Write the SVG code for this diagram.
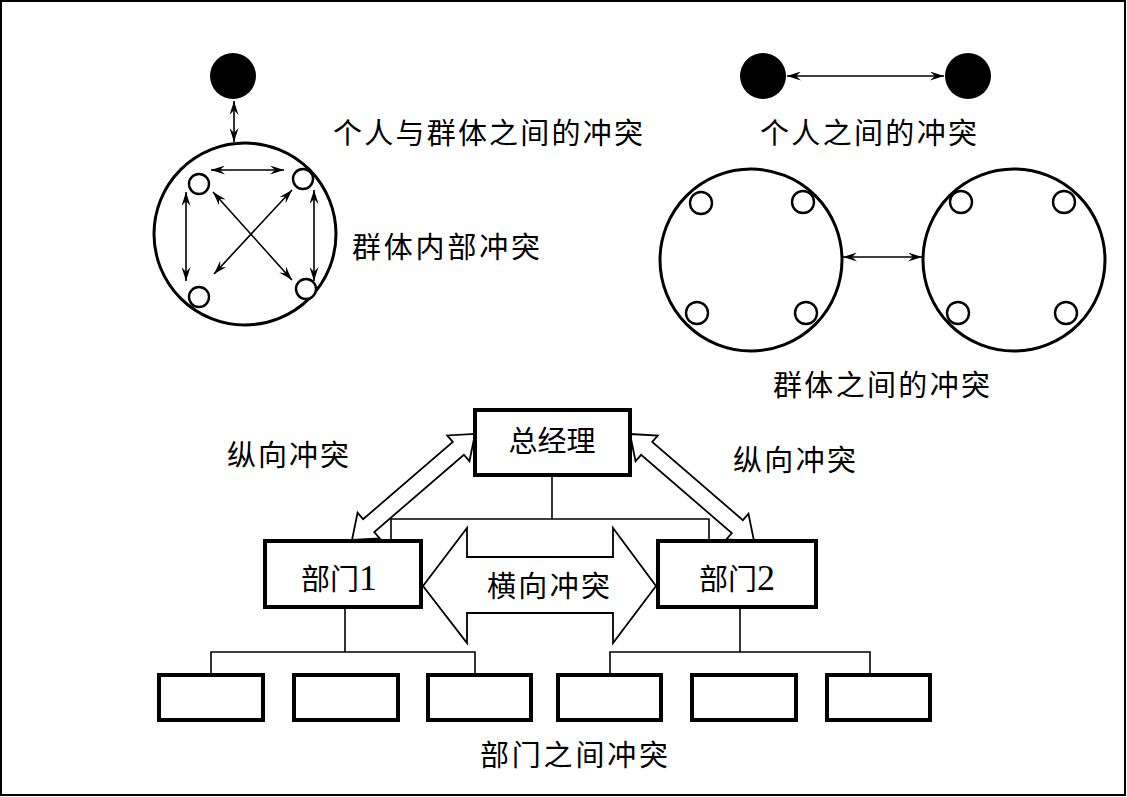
<svg xmlns="http://www.w3.org/2000/svg" width="1127" height="797" viewBox="0 0 1127 797">
<style>
  .t { font-family: "Liberation Serif", "Noto Sans CJK SC", serif; font-size: 29px; fill: #000; }
  .dg { font-size: 36px; }
  .line { stroke: #000; stroke-width: 1.6; fill: none; }
  .arr { stroke: #000; stroke-width: 1.6; fill: none; marker-start: url(#ah); marker-end: url(#ah); }
  .big { stroke: #000; stroke-width: 3; fill: #fff; }
  .small { stroke: #000; stroke-width: 2.4; fill: #fff; }
  .dot { fill: #000; }
  .box { stroke: #000; stroke-width: 4; fill: #fff; }
  .hollow { stroke: #000; stroke-width: 1.8; fill: #fff; stroke-linejoin: miter; }
</style>
<defs>
  <marker id="ah" viewBox="0 0 14 9" refX="14" refY="4.5" markerWidth="14" markerHeight="9" markerUnits="userSpaceOnUse" orient="auto-start-reverse">
    <path d="M0,0 L14,4.5 L0,9 L5,4.5 z" fill="#000"/>
  </marker>
</defs>
<rect x="1" y="1" width="1124" height="794" fill="#fff" stroke="#000" stroke-width="2"/>

<g id="individual-1">
  <circle class="dot" cx="233" cy="76" r="23"/>
</g>
<g id="group-1">
  <circle class="big" cx="245" cy="234" r="91"/>
  <circle class="small" cx="199" cy="184" r="10"/>
  <circle class="small" cx="303" cy="179" r="10"/>
  <circle class="small" cx="199" cy="297" r="10"/>
  <circle class="small" cx="306" cy="289" r="10"/>
</g>

<g id="individual-2"><circle class="dot" cx="763" cy="76" r="23"/></g>
<g id="individual-3"><circle class="dot" cx="968" cy="76" r="23"/></g>
<g id="group-2">
  <circle class="big" cx="751" cy="260" r="91"/>
  <circle class="small" cx="701" cy="203" r="11"/>
  <circle class="small" cx="803" cy="202" r="11"/>
  <circle class="small" cx="697" cy="313" r="11"/>
  <circle class="small" cx="806" cy="313" r="11"/>
</g>
<g id="group-3">
  <circle class="big" cx="1014" cy="260" r="91"/>
  <circle class="small" cx="961" cy="202" r="11"/>
  <circle class="small" cx="1064" cy="202" r="11"/>
  <circle class="small" cx="958" cy="313" r="11"/>
  <circle class="small" cx="1066" cy="313" r="11"/>
</g>

<g id="connectors">
  <line class="arr" x1="234" y1="101" x2="234" y2="142"/>
  <line class="arr" x1="211" y1="170" x2="284" y2="170"/>
  <line class="arr" x1="186" y1="192" x2="186" y2="281"/>
  <line class="arr" x1="314" y1="190" x2="314" y2="281"/>
  <line class="arr" x1="213" y1="192" x2="292" y2="280"/>
  <line class="arr" x1="292" y1="190" x2="214" y2="274"/>
  <line class="arr" x1="787" y1="76" x2="944" y2="76"/>
  <line class="arr" x1="843" y1="257" x2="922" y2="257"/>
  <polyline class="line" points="552,477 552,519"/>
  <polyline class="line" points="391,540 391,519 709,519 709,540"/>
  <polyline class="line" points="345,608 345,652"/>
  <polyline class="line" points="211,675 211,652 475,652 475,675"/>
  <polyline class="line" points="740,608 740,652"/>
  <polyline class="line" points="610,675 610,652 870,652 870,675"/>
  <polygon class="hollow" transform="translate(352,540) rotate(-40.76)" points="0,0 22,-17 22,-8.5 140.4,-8.5 140.4,-17 162.4,0 140.4,17 140.4,8.5 22,8.5 22,17"/>
  <polygon class="hollow" transform="translate(630,434) rotate(40.79)" points="0,0 22,-17 22,-8.5 141.8,-8.5 141.8,-17 163.8,0 141.8,17 141.8,8.5 22,8.5 22,17"/>
  <polygon class="hollow" points="423,586 467,528 467,557 613,557 613,528 656,586 613,643 613,613 467,613 467,643"/>
</g>

<g id="gm"><rect class="box" x="475" y="410" width="155" height="65"/><text class="t" x="552" y="452" text-anchor="middle">总经理</text></g>
<g id="dept1"><rect class="box" x="265" y="541" width="156" height="66"/><text class="t" x="339" y="590" text-anchor="middle">部门<tspan class="dg">1</tspan></text></g>
<g id="dept2"><rect class="box" x="658" y="541" width="158" height="66"/><text class="t" x="737" y="590" text-anchor="middle">部门<tspan class="dg">2</tspan></text></g>
<g id="sub1"><rect class="box" x="159" y="675" width="104" height="45"/></g>
<g id="sub2"><rect class="box" x="294" y="675" width="104" height="45"/></g>
<g id="sub3"><rect class="box" x="428" y="675" width="103" height="45"/></g>
<g id="sub4"><rect class="box" x="558" y="675" width="103" height="45"/></g>
<g id="sub5"><rect class="box" x="692" y="675" width="104" height="45"/></g>
<g id="sub6"><rect class="box" x="827" y="675" width="103" height="45"/></g>

<g id="labels">
  <text class="t" x="333" y="144" textLength="310" lengthAdjust="spacing">个人与群体之间的冲突</text>
  <text class="t" x="760" y="144" textLength="217" lengthAdjust="spacing">个人之间的冲突</text>
  <text class="t" x="352" y="258" textLength="188" lengthAdjust="spacing">群体内部冲突</text>
  <text class="t" x="773" y="396" textLength="217" lengthAdjust="spacing">群体之间的冲突</text>
  <text class="t" x="227" y="466" textLength="122" lengthAdjust="spacing">纵向冲突</text>
  <text class="t" x="733" y="471" textLength="123" lengthAdjust="spacing">纵向冲突</text>
  <text class="t" x="487" y="597" textLength="123" lengthAdjust="spacing">横向冲突</text>
  <text class="t" x="480" y="766" textLength="188" lengthAdjust="spacing">部门之间冲突</text>
</g>
</svg>
